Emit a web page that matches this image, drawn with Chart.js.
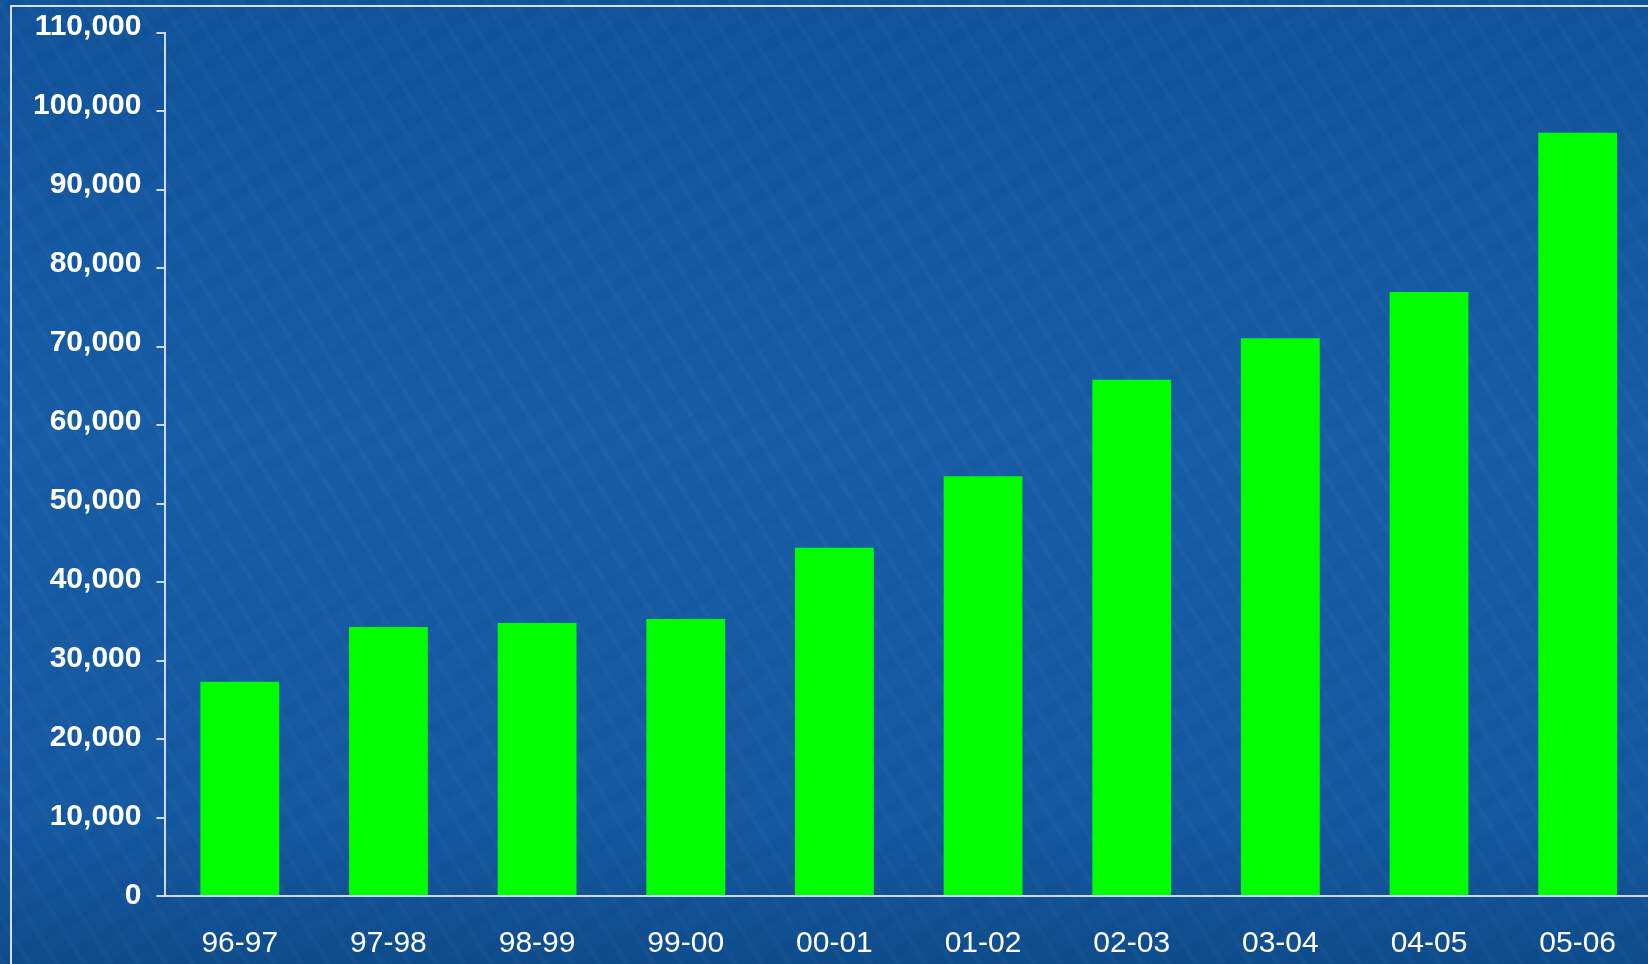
<!DOCTYPE html>
<html>
<head>
<meta charset="utf-8">
<script src="https://cdn.jsdelivr.net/npm/chart.js@4"></script>
<style>
  html, body { margin:0; padding:0; width:1648px; height:964px; overflow:hidden; }
  body {
    background:
      repeating-linear-gradient(58deg, rgba(255,255,255,0.02) 0px, rgba(255,255,255,0.02) 5px, rgba(0,0,0,0) 5px, rgba(0,0,0,0) 23px),
      repeating-linear-gradient(-32deg, rgba(0,20,60,0.03) 0px, rgba(0,20,60,0.03) 11px, rgba(0,0,0,0) 11px, rgba(0,0,0,0) 31px),
      linear-gradient(180deg, #11549c 0%, #175ea7 45%, #1559a1 85%, #0f4c8c 100%);
  }
  #frame { position:absolute; left:10px; top:5px; right:-10px; bottom:-10px;
           border-top:2px solid rgba(235,240,250,0.9); border-left:2px solid rgba(235,240,250,0.9); }
  #wrap { position:absolute; left:0; top:0; width:1656px; height:964px; }
</style>
</head>
<body>
<div id="frame"></div>
<div id="wrap"><canvas id="c"></canvas></div>
<script>
const categories = ["96-97","97-98","98-99","99-00","00-01","01-02","02-03","03-04","04-05","05-06"];
const values = [27300, 34300, 34800, 35300, 44400, 53500, 65800, 71100, 77000, 97300];
const yMin = 0;
const yMax = 110000;
const yStep = 10000;

const axisColor = 'rgba(225,232,245,0.9)';

new Chart(document.getElementById('c'), {
  type: 'bar',
  data: {
    labels: categories,
    datasets: [{
      data: values,
      backgroundColor: '#00ff00',
      borderWidth: 0,
      categoryPercentage: 1.0,
      barPercentage: 0.53
    }]
  },
  options: {
    responsive: true,
    maintainAspectRatio: false,
    animation: false,
    layout: { padding: { left: 18, right: 4, top: 33, bottom: -28 } },
    plugins: { legend: { display: false }, tooltip: { enabled: false } },
    scales: {
      x: {
        grid: { display: false, drawTicks: false },
        border: { display: true, color: axisColor, width: 2 },
        ticks: {
          color: '#ffffff',
          padding: 30,
          maxRotation: 0,
          font: { family: '"Liberation Sans", Arial, sans-serif', size: 30 }
        }
      },
      y: {
        min: yMin,
        max: yMax,
        grid: { drawOnChartArea: false, drawTicks: true, tickLength: 9, color: axisColor, lineWidth: 2 },
        border: { display: true, color: axisColor, width: 2 },
        ticks: {
          stepSize: yStep,
          color: '#ffffff',
          padding: 15,
          font: (ctx) => {
            const v = (ctx.tick && ctx.tick.value) || 0;
            return {
              family: '"Liberation Sans", Arial, sans-serif',
              size: 30,
              weight: 'bold',
              lineHeight: Math.max(0.02, 0.42 * v / yMax)
            };
          },
          callback: v => [v.toLocaleString('en-US'), '']
        }
      }
    }
  }
});
</script>
</body>
</html>
